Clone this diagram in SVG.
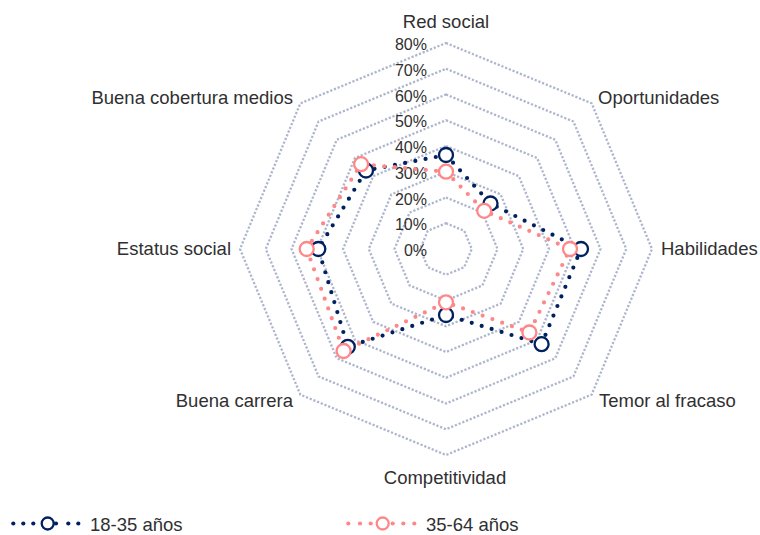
<svg xmlns="http://www.w3.org/2000/svg" width="760" height="535" viewBox="0 0 760 535">
<style>
.grid{fill:none;stroke:#ADB6CC;stroke-width:2.3;stroke-dasharray:2.2 1.8}
.t{font-family:"Liberation Sans",Arial,sans-serif;fill:#303030}
.cat{font-size:18.5px}
.tick{font-size:16px;text-anchor:end}
.s1{fill:none;stroke:#002060;stroke-width:4.2;stroke-linecap:round;stroke-linejoin:round;stroke-dasharray:0 10.4}
.s2{fill:none;stroke:#FF8787;stroke-width:4.2;stroke-linecap:round;stroke-linejoin:round;stroke-dasharray:0 10.4}
.m1{fill:#FFFFFF;stroke:#002060;stroke-width:2.3}
.m2{fill:#FFFFFF;stroke:#FF8787;stroke-width:2.3}
.d1{fill:#002060}
.d2{fill:#FF8787}
</style>
<rect width="760" height="535" fill="#FFFFFF"/>
<g id="grid">
<polygon class="grid" points="446,223.25 464.21,230.79 471.75,249 464.21,267.21 446,274.75 427.79,267.21 420.25,249 427.79,230.79"/>
<polygon class="grid" points="446,197.5 482.42,212.58 497.5,249 482.42,285.42 446,300.5 409.58,285.42 394.5,249 409.58,212.58"/>
<polygon class="grid" points="446,171.75 500.62,194.38 523.25,249 500.62,303.62 446,326.25 391.38,303.62 368.75,249 391.38,194.38"/>
<polygon class="grid" points="446,146 518.83,176.17 549,249 518.83,321.83 446,352 373.17,321.83 343,249 373.17,176.17"/>
<polygon class="grid" points="446,120.25 537.04,157.96 574.75,249 537.04,340.04 446,377.75 354.96,340.04 317.25,249 354.96,157.96"/>
<polygon class="grid" points="446,94.5 555.25,139.75 600.5,249 555.25,358.25 446,403.5 336.75,358.25 291.5,249 336.75,139.75"/>
<polygon class="grid" points="446,68.75 573.46,121.54 626.25,249 573.46,376.46 446,429.25 318.54,376.46 265.75,249 318.54,121.54"/>
<polygon class="grid" points="446,43 591.66,103.34 652,249 591.66,394.66 446,455 300.34,394.66 240,249 300.34,103.34"/>
</g>
<g id="ticks" class="t">
<text class="tick" x="427" y="256">0%</text>
<text class="tick" x="427" y="230.25">10%</text>
<text class="tick" x="427" y="204.5">20%</text>
<text class="tick" x="427" y="178.75">30%</text>
<text class="tick" x="427" y="153">40%</text>
<text class="tick" x="427" y="127.25">50%</text>
<text class="tick" x="427" y="101.5">60%</text>
<text class="tick" x="427" y="75.75">70%</text>
<text class="tick" x="427" y="50">80%</text>
</g>
<g id="labels" class="t cat">
<text x="446" y="27.5" text-anchor="middle">Red social</text>
<text x="598" y="104">Oportunidades</text>
<text x="661" y="255">Habilidades</text>
<text x="599" y="406.5">Temor al fracaso</text>
<text x="445" y="483.5" text-anchor="middle">Competitividad</text>
<text x="293" y="406.5" text-anchor="end">Buena carrera</text>
<text x="231" y="255" text-anchor="end">Estatus social</text>
<text x="293" y="103.5" text-anchor="end">Buena cobertura medios</text>
</g>
<g id="connectors">
<polygon id="serie-18-35-line" class="s1" points="446,155 490.5,203.5 581,249 541.6,344.2 446,315 347.8,346.8 318.3,249 366,170.5"/>
<polygon id="serie-35-64-line" class="s2" points="446,171.7 484.2,210.8 570,249 529.4,332.5 446,302.3 343.6,351 306.7,249 361.1,164.2"/>
</g>
<g id="serie-18-35">
<circle class="m1" cx="446" cy="155" r="7"/>
<circle class="m1" cx="490.5" cy="203.5" r="7"/>
<circle class="m1" cx="581" cy="249" r="7"/>
<circle class="m1" cx="541.6" cy="344.2" r="7"/>
<circle class="m1" cx="446" cy="315" r="7"/>
<circle class="m1" cx="347.8" cy="346.8" r="7"/>
<circle class="m1" cx="318.3" cy="249" r="7"/>
<circle class="m1" cx="366" cy="170.5" r="7"/>
</g>
<g id="serie-35-64">
<circle class="m2" cx="446" cy="171.7" r="7"/>
<circle class="m2" cx="484.2" cy="210.8" r="7"/>
<circle class="m2" cx="570" cy="249" r="7"/>
<circle class="m2" cx="529.4" cy="332.5" r="7"/>
<circle class="m2" cx="446" cy="302.3" r="7"/>
<circle class="m2" cx="343.6" cy="351" r="7"/>
<circle class="m2" cx="306.7" cy="249" r="7"/>
<circle class="m2" cx="361.1" cy="164.2" r="7"/>
</g>
<g id="legend-18-35">
<circle class="d1" cx="13.3" cy="523.5" r="2.1"/>
<circle class="d1" cx="23.3" cy="523.5" r="2.1"/>
<circle class="d1" cx="33.3" cy="523.5" r="2.1"/>
<circle class="d1" cx="56" cy="523.5" r="2.1"/>
<circle class="d1" cx="68.3" cy="523.5" r="2.1"/>
<circle class="d1" cx="78.3" cy="523.5" r="2.1"/>
<circle class="m1" cx="47.7" cy="523.5" r="6"/>
<text class="t cat" x="90" y="531">18-35 años</text>
</g>
<g id="legend-35-64">
<circle class="d2" cx="348.3" cy="523.5" r="2.1"/>
<circle class="d2" cx="360" cy="523.5" r="2.1"/>
<circle class="d2" cx="370.7" cy="523.5" r="2.1"/>
<circle class="d2" cx="392.7" cy="523.5" r="2.1"/>
<circle class="d2" cx="403.3" cy="523.5" r="2.1"/>
<circle class="d2" cx="414.3" cy="523.5" r="2.1"/>
<circle class="m2" cx="382.7" cy="523.5" r="6"/>
<text class="t cat" x="426" y="531">35-64 años</text>
</g>
</svg>
